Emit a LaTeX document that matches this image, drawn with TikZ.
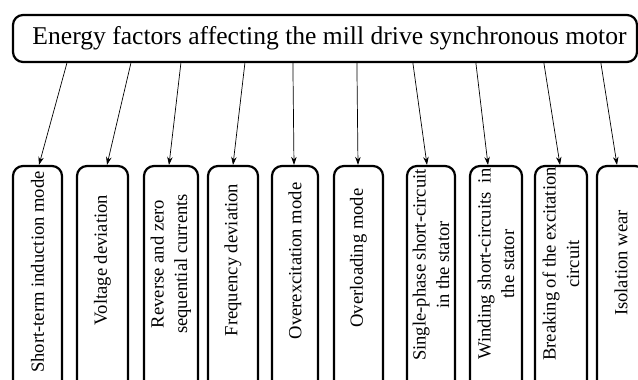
\documentclass[tikz,border=0pt]{standalone}
\usepackage{fontspec}
\setmainfont{Liberation Serif}
\usetikzlibrary{arrows.meta,calc}
\begin{document}
\begin{tikzpicture}[x=1pt,y=-1pt,
  topbox/.style={draw, line width=2.2pt, rounded corners=10pt, inner sep=0pt,
    font=\fontsize{25.6}{30}\selectfont},
  factor/.style={draw, line width=2.2pt, rounded corners=10pt, inner sep=0pt,
    minimum height=224pt},
  lbl/.style={rotate=90, align=center, inner sep=0pt,
    font=\fontsize{18.6}{23.5}\selectfont},
  arr/.style={-{Stealth[length=8pt,width=5.5pt]}, line width=0.7pt}]
\path[use as bounding box, clip] (0,0) rectangle (638,380);

\node[topbox, minimum width=624pt, minimum height=47pt] (T) at (325,38.5)
  {\hspace*{9pt}Energy factors affecting the mill drive synchronous motor};

% factor boxes
\node[factor, minimum width=49pt] (b1) at (37.5,278) {};
\node[factor, minimum width=51pt] (b2) at (102.5,278) {};
\node[factor, minimum width=54pt] (b3) at (171,278) {};
\node[factor, minimum width=50pt] (b4) at (233,278) {};
\node[factor, minimum width=46pt] (b5) at (295,278) {};
\node[factor, minimum width=49pt] (b6) at (358.5,278) {};
\node[factor, minimum width=48pt] (b7) at (431,278) {};
\node[factor, minimum width=52pt] (b8) at (496,278) {};
\node[factor, minimum width=52pt] (b9) at (561,278) {};
\node[factor, minimum width=48pt] (b10) at (621,278) {};

% labels
\node[lbl] (l1) at (37.5,272) {Short-term induction mode};
\node[lbl] (l2) at (102.5,260) {Voltage deviation};
\node[lbl] (l3) at (171,264) {Reverse and zero\\sequential currents};
\node[lbl] (l4) at (233,260) {Frequency deviation};
\node[lbl] (l5) at (295,261) {Overexcitation mode};
\node[lbl] (l6) at (358.5,258) {Overloading mode};
\node[lbl] (l7) at (431,265) {Single-phase short-circuit\\in the stator};
\node[lbl] (l8) at (496,264) {Winding short-circuits\ \ in\\the stator};
\node[lbl] (l9) at (561,264) {Breaking of the excitation\\circuit};
\node[lbl] (l10) at (621,263) {Isolation wear};

% connectors
\draw[arr] ($(T.south west)+(55,0)$) -- ($(b1.north)+(1.5,0)$);
\draw[arr] ($(T.south west)+(119,0)$) -- ($(b2.north)+(4.5,0)$);
\draw[arr] ($(T.south west)+(169,0)$) -- ($(b3.north)+(-2,0)$);
\draw[arr] ($(T.south west)+(233,0)$) -- (b4.north);
\draw[arr] ($(T.south west)+(281,0)$) -- ($(b5.north)+(-1,0)$);
\draw[arr] ($(T.south west)+(345,0)$) -- ($(b6.north)+(-0.5,0)$);
\draw[arr] ($(T.south west)+(401,0)$) -- ($(b7.north)+(-4,0)$);
\draw[arr] ($(T.south west)+(464,0)$) -- ($(b8.north)+(-8,0)$);
\draw[arr] ($(T.south west)+(532,0)$) -- ($(b9.north)+(-1,0)$);
\draw[arr] ($(T.south west)+(589,0)$) -- ($(b10.north)+(-4,0)$);
\end{tikzpicture}
\end{document}
